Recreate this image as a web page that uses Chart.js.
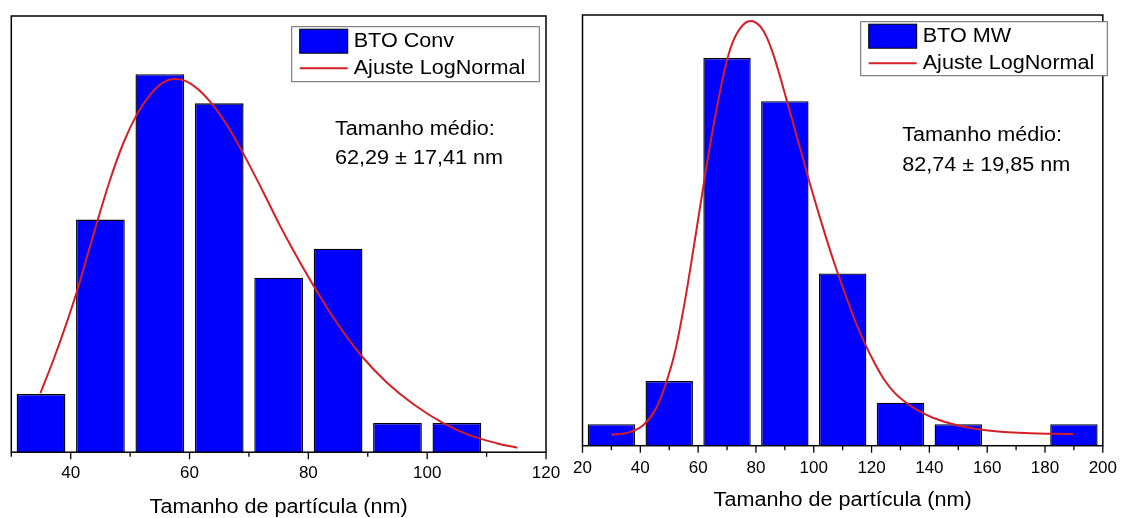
<!DOCTYPE html>
<html>
<head>
<meta charset="utf-8">
<script src="https://cdn.jsdelivr.net/npm/chart.js@4.4.1/dist/chart.umd.min.js"></script>
<style>
body{margin:0;background:#fff;width:1129px;height:518px;overflow:hidden;position:relative}
canvas{position:absolute;top:0}
#convChart{left:0}
#mwChart{left:560px}
</style>
</head>
<body>
<canvas id="convChart" width="580" height="518"></canvas>
<canvas id="mwChart" width="569" height="518"></canvas>
<script>
const FONT="'Liberation Sans', Arial, sans-serif";
const XTITLE='Tamanho de partícula (nm)';

// BTO convencional - histograma e ajuste lognormal
const convBins=[35,45,55,65,75,85,95,105];
const convCounts=[2,8,13,12,6,7,1,1];
const convFitX=[34.9,37.1,39.3,41.0,43.0,44.5,46.6,48.9,51.1,53.4,55.6,57.6,60.1,63.5,66.3,69.1,72.4,75.2,76.9,80.8,84.8,89.0,93.2,97.7,102.7,107.2,111.7,115.2];
const convFitY=[2.03,3.18,4.44,5.5,6.9,7.95,9.35,10.65,11.6,12.3,12.72,12.83,12.68,12.05,11.25,10.25,8.95,7.8,7.15,5.75,4.45,3.3,2.4,1.65,1.0,0.58,0.31,0.15];
const convTicks=[40,60,80,100,120];
const convMinor=[30,50,70,90,110];
const convNote=["Tamanho médio:","62,29 ± 17,41 nm"];

// BTO micro-ondas
const mwBins=[30,50,70,90,110,130,150,190];
const mwCounts=[1,3,18,16,8,2,1,1];
const mwFitX=[29.9,36.1,41.2,45.2,48.5,51.9,55.3,58.7,62.1,65.5,68.9,70.6,72.3,74.0,75.7,77.1,78.5,80.2,81.9,83.8,85.8,88.0,90.3,94.9,98.2,102.8,107.3,111.8,114.6,117.5,121.0,124.2,128.0,132.1,136.5,141.2,150.2,160.4,172.8,189.8];
const mwFitY=[0.51,0.62,0.97,1.67,2.75,4.3,6.62,9.4,12.3,15.0,17.29,18.2,18.84,19.28,19.56,19.7,19.72,19.62,19.4,18.95,18.25,17.3,16.21,14.0,12.4,10.3,8.4,6.7,5.7,4.8,3.85,3.1,2.45,1.98,1.6,1.3,0.93,0.71,0.59,0.54];
const mwTicks=[20,40,60,80,100,120,140,160,180,200];
const mwMinor=[30,50,70,90,110,130,150,170,190];
const mwNote=["Tamanho médio:","82,74 ± 19,85 nm"];

function wideText(ctx,txt,x,y){
  ctx.save();
  ctx.translate(x,y);
  ctx.scale(1.08,1);
  ctx.fillText(txt,0,0);
  ctx.restore();
}

const originFrame={
  id:'originFrame',
  afterDraw(chart,args,o){
    const ctx=chart.ctx,a=chart.chartArea,xs=chart.scales.x;
    ctx.save();
    ctx.strokeStyle='#000';
    ctx.lineWidth=1.5;
    ctx.strokeRect(a.left,a.top,a.right-a.left,a.bottom-a.top);
    ctx.lineWidth=1.3;
    ctx.beginPath();
    o.major.forEach(v=>{const p=xs.getPixelForValue(v);ctx.moveTo(p,a.bottom);ctx.lineTo(p,a.bottom+7);});
    o.minor.forEach(v=>{const p=xs.getPixelForValue(v);ctx.moveTo(p,a.bottom);ctx.lineTo(p,a.bottom+4.5);});
    ctx.stroke();

    // titulo do eixo x
    ctx.fillStyle='#000';
    ctx.font='20px '+FONT;
    ctx.textAlign='center';
    ctx.textBaseline='middle';
    wideText(ctx,XTITLE,(a.left+a.right)/2,o.titleY);
    ctx.textAlign='left';

    // legenda
    const L=o.legend,ds=chart.data.datasets;
    const bar=ds.find(d=>d.type!=='line'),fit=ds.find(d=>d.type==='line');
    ctx.fillStyle='#fff';
    ctx.fillRect(L.x,L.y,L.w,L.h);
    ctx.strokeStyle='#666';
    ctx.lineWidth=1;
    ctx.strokeRect(L.x,L.y,L.w,L.h);
    ctx.fillStyle=bar.backgroundColor;
    ctx.fillRect(L.x+8,L.y+2.5,48,24);
    ctx.strokeStyle='#000';
    ctx.strokeRect(L.x+8,L.y+2.5,48,24);
    ctx.strokeStyle=fit.borderColor;
    ctx.lineWidth=2;
    ctx.beginPath();
    ctx.moveTo(L.x+8,L.y+41.5);ctx.lineTo(L.x+56,L.y+41.5);
    ctx.stroke();
    ctx.fillStyle='#000';
    wideText(ctx,bar.label,L.x+62,L.y+15);
    wideText(ctx,fit.label,L.x+62,L.y+41.5);

    // tamanho medio
    o.note.forEach((t,i)=>wideText(ctx,t,o.noteX,o.noteY+i*29.3));
    ctx.restore();
  }
};

function makeChart(id,bins,counts,fitX,fitY,label,xmin,xmax,ymax,ticks,minor,pad,tickPad,legend,note,noteX,noteY,titleY){
  return new Chart(document.getElementById(id),{
    type:'bar',
    data:{
      datasets:[{
        type:'line',
        label:'Ajuste LogNormal',
        data:fitX.map((x,i)=>({x:x,y:fitY[i]})),
        borderColor:'#d41f26',
        borderWidth:2,
        pointRadius:0,
        cubicInterpolationMode:'monotone',
        order:0
      },{
        label:label,
        data:bins.map((x,i)=>({x:x,y:counts[i]})),
        backgroundColor:'#0000ff',
        borderColor:'#000',
        borderWidth:1.4,
        barPercentage:0.82,
        categoryPercentage:1.0,
        order:1
      }]
    },
    options:{
      responsive:false,
      animation:false,
      devicePixelRatio:1,
      layout:{padding:pad},
      plugins:{
        legend:{display:false},
        tooltip:{enabled:false},
        originFrame:{major:ticks,minor:minor,legend:legend,note:note,noteX:noteX,noteY:noteY,titleY:titleY}
      },
      scales:{
        x:{
          type:'linear',
          min:xmin,
          max:xmax,
          offset:false,
          afterBuildTicks:ax=>{ax.ticks=ticks.map(v=>({value:v}));},
          grid:{display:false,drawTicks:false},
          border:{display:false},
          ticks:{color:'#000',padding:tickPad,maxRotation:0,autoSkip:false,font:{family:FONT,size:17}}
        },
        y:{display:false,min:0,max:ymax}
      }
    },
    plugins:[originFrame]
  });
}

makeChart('convChart',convBins,convCounts,convFitX,convFitY,'BTO Conv',30,120,15,convTicks,convMinor,
  {left:11.3,right:34,top:16,bottom:23.4},11,
  {x:291.7,y:26.7,w:247.6,h:55},convNote,335,129,507.5);

makeChart('mwChart',mwBins,mwCounts,mwFitX,mwFitY,'BTO MW',20,200,20,mwTicks,mwMinor,
  {left:22.5,right:15.5,top:15,bottom:27.9},12,
  {x:300.7,y:21.7,w:246.6,h:54},mwNote,342.3,135.7,500.5);
</script>
</body>
</html>
